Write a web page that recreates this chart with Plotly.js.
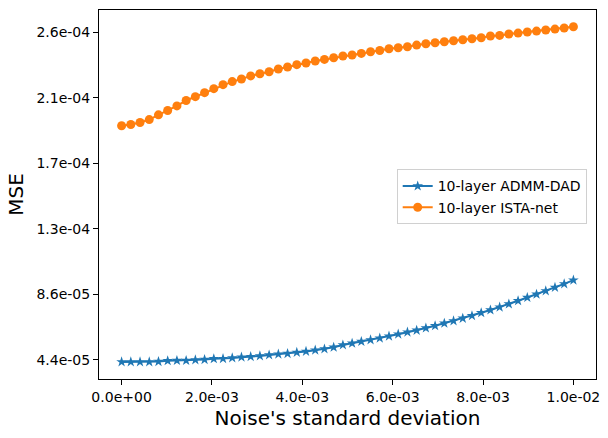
<!DOCTYPE html>
<html>
<head>
<meta charset="utf-8">
<script src="https://cdn.plot.ly/plotly-3.0.1.min.js"></script>
<style>
  html, body { margin: 0; padding: 0; background: #fff; }
  #chart { width: 608px; height: 438px; }
</style>
</head>
<body>
<div id="chart"></div>
<script>
// -----------------------
// Datos
// -----------------------
const N_POINTS = 50;
const X_MAX = 0.01;
const noiseStd = Array.from({ length: N_POINTS }, (_, i) => i * X_MAX / (N_POINTS - 1));

// MSE en unidades de 1e-5
const admmDad = [
  4.25, 4.25, 4.25, 4.25, 4.27, 4.32, 4.34, 4.34, 4.38, 4.40,
  4.45, 4.46, 4.51, 4.56, 4.59, 4.64, 4.70, 4.75, 4.79, 4.87,
  4.93, 5.01, 5.09, 5.20, 5.35, 5.46, 5.57, 5.68, 5.79, 5.92,
  6.05, 6.18, 6.30, 6.45, 6.60, 6.76, 6.91, 7.08, 7.25, 7.44,
  7.62, 7.81, 8.01, 8.22, 8.43, 8.64, 8.86, 9.09, 9.32, 9.56
];
const istaNet = [
  19.59, 19.67, 19.80, 19.99, 20.30, 20.58, 20.88, 21.23, 21.48, 21.74,
  22.00, 22.26, 22.46, 22.63, 22.83, 22.97, 23.10, 23.28, 23.41, 23.56,
  23.67, 23.80, 23.90, 24.01, 24.12, 24.19, 24.29, 24.40, 24.48, 24.59,
  24.66, 24.72, 24.83, 24.92, 24.98, 25.05, 25.11, 25.18, 25.24, 25.31,
  25.42, 25.46, 25.55, 25.61, 25.68, 25.74, 25.81, 25.87, 25.94, 26.02
];

const xTickVals = [0, 0.002, 0.004, 0.006, 0.008, 0.01];
const xTickText = ["0.0e+00", "2.0e-03", "4.0e-03", "6.0e-03", "8.0e-03", "1.0e-02"];
const yTickVals = [4.40e-5, 8.65e-5, 1.29e-4, 1.715e-4, 2.14e-4, 2.565e-4];
const yTickText = ["4.4e-05", "8.6e-05", "1.3e-04", "1.7e-04", "2.1e-04", "2.6e-04"];

const scale = (arr) => arr.map(v => v * 1e-5);

// -----------------------
// Trazas
// -----------------------
const traceAdmm = {
  x: noiseStd,
  y: scale(admmDad),
  type: "scatter",
  mode: "lines+markers",
  name: "10-layer ADMM-DAD",
  line: { color: "#1f77b4", width: 2 },
  marker: { symbol: "star", size: 8, color: "#1f77b4" }
};
const traceIsta = {
  x: noiseStd,
  y: scale(istaNet),
  type: "scatter",
  mode: "lines+markers",
  name: "10-layer ISTA-net",
  line: { color: "#ff7f0e", width: 2 },
  marker: { symbol: "circle", size: 9, color: "#ff7f0e" }
};

const axisBase = {
  showline: true,
  mirror: true,
  linecolor: "#000",
  linewidth: 1,
  showgrid: false,
  zeroline: false,
  ticks: "outside",
  ticklen: 5,
  tickwidth: 1,
  tickcolor: "#000",
  tickfont: { family: "DejaVu Sans", size: 14, color: "#000" },
  tickmode: "array"
};

const layout = {
  width: 608,
  height: 438,
  margin: { l: 99, r: 12, t: 10, b: 59 },
  paper_bgcolor: "#fff",
  plot_bgcolor: "#fff",
  font: { family: "DejaVu Sans", color: "#000" },
  xaxis: Object.assign({}, axisBase, {
    range: [-0.0005, 0.0105],
    tickvals: xTickVals,
    ticktext: xTickText,
    title: { text: "Noise's standard deviation", font: { family: "DejaVu Sans", size: 20 }, standoff: 7 }
  }),
  yaxis: Object.assign({}, axisBase, {
    range: [3.14e-5, 2.711e-4],
    tickvals: yTickVals,
    ticktext: yTickText,
    automargin: true,
    title: { text: "MSE", font: { family: "DejaVu Sans", size: 20 }, standoff: 7 }
  }),
  legend: {
    x: 0.599,
    y: 0.568,
    xanchor: "left",
    yanchor: "top",
    bgcolor: "rgba(255,255,255,0.8)",
    bordercolor: "#d0d0d0",
    borderwidth: 1,
    font: { family: "DejaVu Sans", size: 14, color: "#000" },
    tracegroupgap: 0
  },
  showlegend: true
};

Plotly.newPlot("chart", [traceAdmm, traceIsta], layout, { displayModeBar: false, staticPlot: true });
</script>
</body>
</html>
